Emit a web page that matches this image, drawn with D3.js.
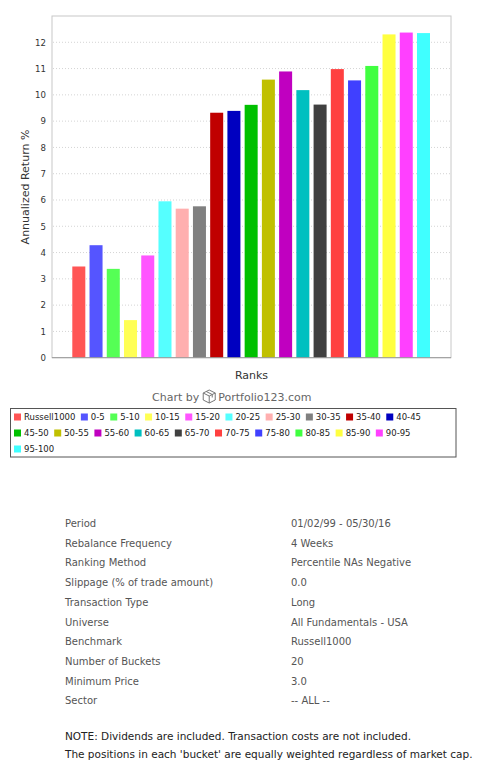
<!doctype html>
<html>
<head>
<meta charset="utf-8">
<script src="https://d3js.org/d3.v7.min.js"></script>
<style>
body { margin: 0; background: #fff; }
text { font-family: "DejaVu Sans", Verdana, sans-serif; }
</style>
</head>
<body>
<svg width="492" height="784"></svg>
<script>
// chart values
var ranks = ["Russell1000", "0-5", "5-10", "10-15", "15-20", "20-25", "25-30", "30-35", "35-40", "40-45",
	"45-50", "50-55", "55-60", "60-65", "65-70", "70-75", "75-80", "80-85", "85-90", "90-95", "95-100"];
var returns = [3.47, 4.28, 3.38, 1.43, 3.89, 5.95, 5.67, 5.76, 9.32, 9.39,
	9.62, 10.58, 10.89, 10.18, 9.63, 10.98, 10.55, 11.10, 12.30, 12.37, 12.35];
var colors = ["#ff5555", "#5555ff", "#55ff55", "#ffff55", "#ff55ff", "#55ffff", "#ffafaf", "#808080", "#c00000", "#0000c0",
	"#00c000", "#c0c000", "#c000c0", "#00c0c0", "#404040", "#ff4040", "#4040ff", "#40ff40", "#ffff40", "#ff40ff", "#40ffff"];
var yTicks = [0, 1, 2, 3, 4, 5, 6, 7, 8, 9, 10, 11, 12];

// settings table
var infoLabels = ["Period", "Rebalance Frequency", "Ranking Method", "Slippage (% of trade amount)", "Transaction Type",
	"Universe", "Benchmark", "Number of Buckets", "Minimum Price", "Sector"];
var infoValues = ["01/02/99 - 05/30/16", "4 Weeks", "Percentile NAs Negative", "0.0", "Long",
	"All Fundamentals - USA", "Russell1000", "20", "3.0", "-- ALL --"];
var notes = ["NOTE: Dividends are included. Transaction costs are not included.",
	"The positions in each 'bucket' are equally weighted regardless of market cap."];

var svg = d3.select("svg");
var plotLeft = 52, plotRight = 451, plotTop = 16, plotBottom = 357.7;

var y = d3.scaleLinear().domain([0, 13]).range([plotBottom, plotTop]);
var x = d3.scaleBand().domain(ranks).range([72.3, 430]).paddingInner(0.245).paddingOuter(0);

// frame
svg.append("rect").attr("x", plotLeft).attr("y", plotTop).attr("width", plotRight - plotLeft).attr("height", plotBottom - plotTop)
	.attr("fill", "none").attr("stroke", "#c8c8c8");

// grid
svg.append("g").selectAll("line").data(yTicks.slice(1)).enter().append("line")
	.attr("x1", plotLeft + 1).attr("x2", plotRight - 1)
	.attr("y1", function(d) { return y(d); }).attr("y2", function(d) { return y(d); })
	.attr("stroke", "#d4d4d4").attr("stroke-dasharray", "1,2");

// y axis
var yAxis = svg.append("g").attr("transform", "translate(" + plotLeft + ",0)")
	.call(d3.axisLeft(y).tickValues(yTicks).tickSize(0).tickPadding(6));
yAxis.select(".domain").remove();
yAxis.selectAll("text").attr("font-size", "8.6px").attr("fill", "#333")
	.style("font-family", "'DejaVu Sans', Verdana, sans-serif");

// bars
svg.append("g").selectAll("rect").data(returns).enter().append("rect")
	.attr("x", function(d, i) { return x(ranks[i]); })
	.attr("width", x.bandwidth())
	.attr("y", function(d) { return y(d); })
	.attr("height", function(d) { return y(0) - y(d); })
	.attr("fill", function(d, i) { return colors[i]; });

// bottom axis line
svg.append("line").attr("x1", plotLeft).attr("x2", plotRight).attr("y1", plotBottom).attr("y2", plotBottom)
	.attr("stroke", "#999");

// titles
svg.append("text").attr("transform", "translate(29,187) rotate(-90)").attr("text-anchor", "middle")
	.attr("font-size", "11px").attr("fill", "#333").text("Annualized Return %");
svg.append("text").attr("x", (plotLeft + plotRight) / 2).attr("y", 379).attr("text-anchor", "middle")
	.attr("font-size", "11px").attr("fill", "#333").text("Ranks");

// credits
var cr = svg.append("g").attr("fill", "#666").attr("font-size", "11px");
var t1 = cr.append("text").attr("x", 152).attr("y", 401).text("Chart by");
var w1 = t1.node().getComputedTextLength();
var ix = 152 + w1 + 4;
cr.append("path")
	.attr("d", "M" + (ix + 6) + ",390 l6,3 v7 l-6,3 l-6,-3 v-7 z M" + ix + ",393 l6,3 l6,-3 M" + (ix + 6) + ",396 v7 M" + (ix + 3) + ",391.5 l6,3 v3")
	.attr("fill", "none").attr("stroke", "#777").attr("stroke-width", 1);
cr.append("text").attr("x", ix + 15).attr("y", 401).text("Portfolio123.com");

// legend
var lg = svg.append("g");
lg.append("rect").attr("x", 10.5).attr("y", 408.5).attr("width", 445.5).attr("height", 48.5)
	.attr("fill", "#fff").attr("stroke", "#555");
var lx = 14, row = 0, rowY = [417, 433, 449];
ranks.forEach(function(r, i) {
	var t = lg.append("text").attr("font-size", "8.5px").attr("fill", "#222").text(r);
	var w = t.node().getComputedTextLength();
	if (lx + 10 + w > 452) { row++; lx = 14; }
	lg.append("rect").attr("x", lx).attr("y", rowY[row] - 3.5).attr("width", 7).attr("height", 7).attr("fill", colors[i]);
	t.attr("x", lx + 10).attr("y", rowY[row] + 3);
	lx = lx + 10 + w + 5.5;
});

// settings table
var tb = svg.append("g").attr("font-size", "10px").attr("fill", "#555");
infoLabels.forEach(function(l, i) {
	tb.append("text").attr("x", 65).attr("y", 527 + i * 19.7).text(l);
	tb.append("text").attr("x", 291).attr("y", 527 + i * 19.7).text(infoValues[i]);
});

var nt = svg.append("g").attr("font-size", "10.5px").attr("fill", "#222");
notes.forEach(function(n, i) {
	nt.append("text").attr("x", 65).attr("y", 740 + i * 18).text(n);
});
</script>
</body>
</html>
